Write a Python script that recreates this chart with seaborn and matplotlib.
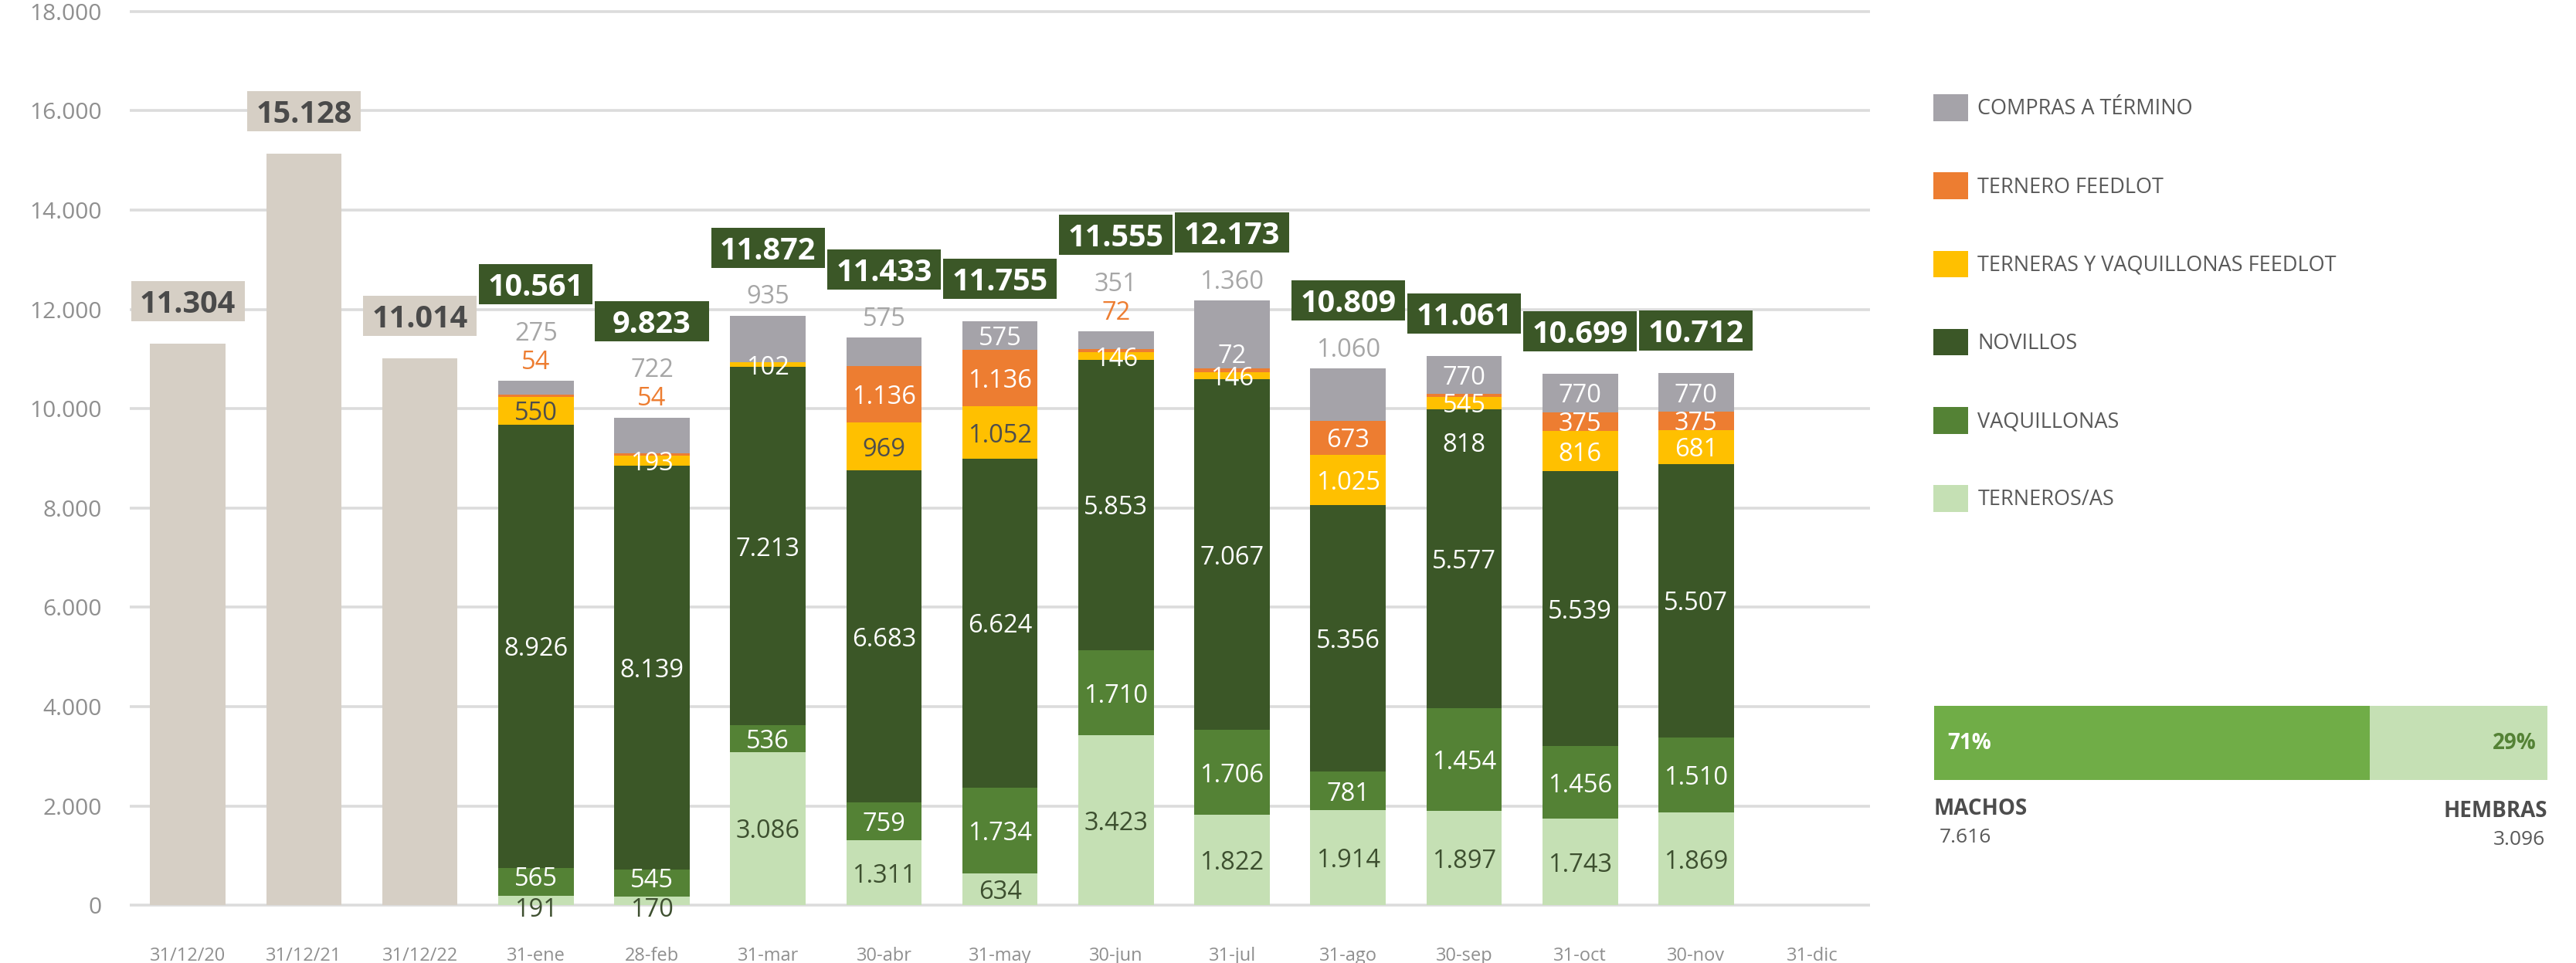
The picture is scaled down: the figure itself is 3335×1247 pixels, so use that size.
import numpy as np
import pandas as pd
import matplotlib
matplotlib.use('Agg')
import matplotlib.pyplot as plt
import seaborn as sns
from matplotlib.patches import Patch, Rectangle

# ---- data ----
months = ['31/12/20', '31/12/21', '31/12/22', '31-ene', '28-feb', '31-mar', '30-abr',
          '31-may', '30-jun', '31-jul', '31-ago', '30-sep', '31-oct', '30-nov', '31-dic']
hist_months = ['31/12/20', '31/12/21', '31/12/22']
hist_totals = [11304, 15128, 11014]
cur_months = ['31-ene', '28-feb', '31-mar', '30-abr', '31-may', '30-jun',
              '31-jul', '31-ago', '30-sep', '31-oct', '30-nov']

# segment heights (bottom -> top)
terneros = [191, 170, 3086, 1311, 634, 3423, 1822, 1914, 1897, 1743, 1869]
vaquillonas = [565, 545, 536, 759, 1734, 1710, 1706, 781, 2070, 1456, 1510]
novillos = [8926, 8139, 7213, 6683, 6624, 5853, 7067, 5356, 6020, 5539, 5507]
tv_feedlot = [550, 193, 102, 969, 1052, 146, 146, 1025, 250, 816, 681]
tern_feedlot = [54, 54, 0, 1136, 1136, 72, 72, 673, 54, 375, 375]
compras = [275, 722, 935, 575, 575, 351, 1360, 1060, 770, 770, 770]
totals = [10561, 9823, 11872, 11433, 11755, 11555, 12173, 10809, 11061, 10699, 10712]

# numbers as printed on the chart (30-sep labels differ from drawn heights)
terneros_lbl = [191, 170, 3086, 1311, 634, 3423, 1822, 1914, 1897, 1743, 1869]
vaquillonas_lbl = [565, 545, 536, 759, 1734, 1710, 1706, 781, 1454, 1456, 1510]
novillos_lbl = [8926, 8139, 7213, 6683, 6624, 5853, 7067, 5356, 5577, 5539, 5507]
tv_lbl = [550, 193, 102, 969, 1052, 146, 146, 1025, 545, 816, 681]
tf_lbl = [54, 54, None, 1136, 1136, 72, 72, 673, 818, 375, 375]
compras_lbl = [275, 722, 935, 575, 575, 351, 1360, 1060, 770, 770, 770]

sexes = ['MACHOS', 'HEMBRAS']
sex_counts = [7616, 3096]

series_names = ['TERNEROS/AS', 'VAQUILLONAS', 'NOVILLOS',
                'TERNERAS Y VAQUILLONAS FEEDLOT', 'TERNERO FEEDLOT', 'COMPRAS A TÉRMINO']

# ---- label placement / styles ----
tf_pos = ['out', 'out', None, 'in', 'in', 'out', 'up', 'in', 'down', 'in', 'in']
compras_pos = ['out', 'out', 'out', 'out', 'in', 'out', 'out', 'out', 'in', 'in', 'in']
tv_dark = [True, False, False, True, True, False, False, False, False, False, False]

colors = ['#c5e0b4', '#548235', '#3b5727', '#ffc000', '#ed7d31', '#a5a3a9']
beige = '#d6cfc5'
box_green = '#3b5727'
grid_c = '#dcdcdc'
tick_c = '#8f8f8f'
font = ['Open Sans', 'DejaVu Sans']


def fmt(v):
    return f'{v:,}'.replace(',', '.')


sns.set_theme(style='white')
plt.rcParams['font.family'] = font

fig = plt.figure(figsize=(33.35, 12.47), dpi=100)
ax = fig.add_axes([0.0504, 0.0569, 0.6756, 0.939])

Y0, Y1 = -60, 18150
ax.set_ylim(Y0, Y1)
u = (Y1 - Y0) / (0.939 * 1247)  # data units per pixel

bar_kw = dict(saturation=1, width=0.65, linewidth=0, edgecolor='none', zorder=3)

# historical totals
sns.barplot(x=hist_months, y=hist_totals, order=months, color=beige, ax=ax, **bar_kw)

# stacked months, drawn as cumulative bars from the top layer down
layers = np.array([terneros, vaquillonas, novillos, tv_feedlot, tern_feedlot, compras])
cum = layers.cumsum(axis=0)
for k in range(5, -1, -1):
    df = pd.DataFrame({'mes': cur_months, 'v': cum[k]})
    sns.barplot(data=df, x='mes', y='v', order=months, color=colors[k], ax=ax, **bar_kw)

ax.set_xlim(-0.5, len(months) - 0.5)
ax.set_yticks(range(0, 18001, 2000))
ax.set_yticklabels([fmt(v) for v in range(0, 18001, 2000)])
ax.yaxis.grid(True, color=grid_c, linewidth=2.6, zorder=0)
ax.xaxis.grid(False)
ax.set_axisbelow(True)
for s in ax.spines.values():
    s.set_visible(False)
ax.set_xticks(range(len(months)))
ax.set_xticklabels(months)
ax.tick_params(axis='x', length=0, pad=36, labelsize=17, labelcolor=tick_c)
ax.tick_params(axis='y', length=0, pad=26, labelsize=21.5, labelcolor=tick_c)
ax.set_xlabel('')
ax.set_ylabel('')

seg_fs = 23.5


def total_box(i, y, txt, fc, tc):
    ax.add_patch(Rectangle((i - 0.49, y - 26 * u), 0.98, 52 * u, fc=fc, ec='none',
                           zorder=6, clip_on=False))
    ax.text(i, y, txt, ha='center', va='center_baseline', fontsize=28.5,
            fontweight='bold', color=tc, zorder=7)


# historical boxes
for j, t in enumerate(hist_totals):
    total_box(j, t + 55 * u, fmt(t), beige, '#4a4a4a')

# segment labels
for m in range(len(cur_months)):
    i = m + 3
    bottoms = np.concatenate([[0], cum[:, m]])
    mid = lambda k: (bottoms[k] + bottoms[k + 1]) / 2

    # tiny bottom segments: push the two lowest labels apart a little
    small = terneros[m] < 400
    y_ter = mid(0) - (8 * u if small else 0)
    y_vaq = mid(1) + (7 * u if small else 0)

    ax.text(i, y_ter, fmt(terneros_lbl[m]), ha='center', va='center_baseline',
            fontsize=seg_fs, color='#3d4f2f', zorder=5)
    ax.text(i, y_vaq, fmt(vaquillonas_lbl[m]), ha='center', va='center_baseline',
            fontsize=seg_fs, color='white', zorder=5)
    ax.text(i, mid(2), fmt(novillos_lbl[m]), ha='center', va='center_baseline',
            fontsize=seg_fs, color='white', zorder=5)
    ax.text(i, mid(3), fmt(tv_lbl[m]), ha='center', va='center_baseline',
            fontsize=seg_fs, color='#4d4d4d' if tv_dark[m] else 'white', zorder=5)

    n_out = 0
    top = totals[m]
    if tf_lbl[m] is not None:
        p = tf_pos[m]
        if p == 'in':
            ax.text(i, mid(4), fmt(tf_lbl[m]), ha='center', va='center_baseline',
                    fontsize=seg_fs, color='white', zorder=5)
        elif p == 'up':
            ax.text(i, bottoms[5] + 19 * u, fmt(tf_lbl[m]), ha='center',
                    va='center_baseline', fontsize=seg_fs, color='white', zorder=5)
        elif p == 'down':
            ax.text(i, bottoms[4] - 59 * u, fmt(tf_lbl[m]), ha='center',
                    va='center_baseline', fontsize=seg_fs, color='white', zorder=5)
        else:
            ax.text(i, top + (28 + 37 * n_out) * u, fmt(tf_lbl[m]), ha='center',
                    va='center_baseline', fontsize=seg_fs, color=colors[4], zorder=5)
            n_out += 1
    if compras_pos[m] == 'in':
        ax.text(i, mid(5), fmt(compras_lbl[m]), ha='center', va='center_baseline',
                fontsize=seg_fs, color='white', zorder=5)
    else:
        ax.text(i, top + (28 + 37 * n_out) * u, fmt(compras_lbl[m]), ha='center',
                va='center_baseline', fontsize=seg_fs, color='#a6a6a6', zorder=5)
        n_out += 1

    if n_out:
        yb = top + (28 + 37 * (n_out - 1) + 60) * u
    else:
        yb = top + 55 * u
    total_box(i, yb, fmt(totals[m]), box_green, 'white')

# legend
handles = [Patch(facecolor=colors[k], edgecolor='none', label=series_names[k])
           for k in range(5, -1, -1)]
fig.legend(handles=handles, loc='upper left', bbox_to_anchor=(0.7505, 0.902),
           frameon=False, fontsize=19.5, handlelength=1.67, handleheight=1.6,
           handletextpad=0.45, labelspacing=2.45, borderaxespad=0, borderpad=0,
           labelcolor='#595959')

# machos / hembras bar
ax2 = fig.add_axes([0.7508, 0.190, 0.2381, 0.077])
tot_sex = sum(sex_counts)
sns.barplot(x=[tot_sex], y=['s'], orient='h', color='#c5e0b4', saturation=1,
            width=1.0, linewidth=0, ax=ax2)
sns.barplot(x=[sex_counts[0]], y=['s'], orient='h', color='#70ad47', saturation=1,
            width=1.0, linewidth=0, ax=ax2)
ax2.set_xlim(0, tot_sex)
ax2.set_ylim(0.5, -0.5)
ax2.axis('off')
pct_m = round(100 * sex_counts[0] / tot_sex)
pct_h = 100 - pct_m
ax2.text(0.022, 0.5, f'{pct_m}%', transform=ax2.transAxes, ha='left', va='center',
         fontsize=20, fontweight='bold', color='white')
ax2.text(0.982, 0.5, f'{pct_h}%', transform=ax2.transAxes, ha='right', va='center',
         fontsize=20, fontweight='bold', color='#548235')
ax2.text(0.0, -0.39, sexes[0], transform=ax2.transAxes, ha='left', va='center',
         fontsize=20, fontweight='bold', color='#4d4d4d')
ax2.text(0.009, -0.77, fmt(sex_counts[0]), transform=ax2.transAxes, ha='left',
         va='center', fontsize=19, color='#595959')
ax2.text(1.0, -0.42, sexes[1], transform=ax2.transAxes, ha='right', va='center',
         fontsize=20, fontweight='bold', color='#4d4d4d')
ax2.text(0.996, -0.81, fmt(sex_counts[1]), transform=ax2.transAxes, ha='right',
         va='center', fontsize=19, color='#595959')

fig.savefig('out.png', dpi=100)
